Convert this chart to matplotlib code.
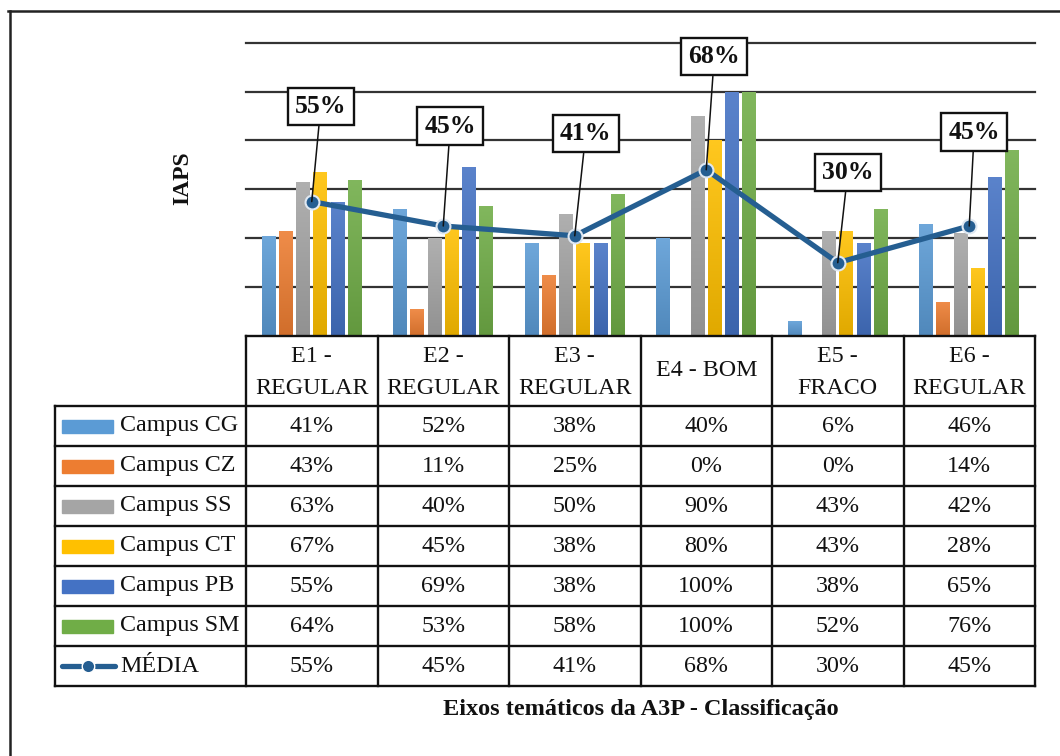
import matplotlib
matplotlib.use("Agg")
import numpy as np
import matplotlib.pyplot as plt
from matplotlib.patches import Rectangle
from matplotlib.colors import to_rgb

# ---------------- data ----------------
categories = ["E1 -\nREGULAR", "E2 -\nREGULAR", "E3 -\nREGULAR",
              "E4 - BOM", "E5 -\nFRACO", "E6 -\nREGULAR"]
series_names = ["Campus CG", "Campus CZ", "Campus SS",
                "Campus CT", "Campus PB", "Campus SM"]
campus_cg = [41, 52, 38, 40, 6, 46]
campus_cz = [43, 11, 25, 0, 0, 14]
campus_ss = [63, 40, 50, 90, 43, 42]
campus_ct = [67, 45, 38, 80, 43, 28]
campus_pb = [55, 69, 38, 100, 38, 65]
campus_sm = [64, 53, 58, 100, 52, 76]
media = [55, 45, 41, 68, 30, 45]
media_name = "MÉDIA"
y_label = "IAPS"
x_title = "Eixos temáticos da A3P - Classificação"

series_values = [campus_cg, campus_cz, campus_ss, campus_ct, campus_pb, campus_sm]
colors = ["#5B9BD5", "#ED7D31", "#A5A5A5", "#FFC000", "#4472C4", "#70AD47"]
line_color = "#255E91"
text_color = "#111111"

plt.rcParams['font.family'] = ['Liberation Serif', 'DejaVu Serif']
plt.rcParams['text.color'] = text_color

W, H = 1060, 756
fig = plt.figure(figsize=(W / 100, H / 100), dpi=100)


def fx(px):
    return px / W


def fy(py):
    return 1 - py / H


def shade(c, f):
    r = np.array(to_rgb(c))
    if f >= 0:
        return r + (1 - r) * f
    return r * (1 + f)


# ---------------- chart area ----------------
x_left, x_right = 246, 1035
y_top, y_bot = 42.7, 336
ax = fig.add_axes([fx(x_left), fy(y_bot), fx(x_right) - fx(x_left), fy(y_top) - fy(y_bot)])
ax.set_xlim(-0.5, len(categories) - 0.5)
ax.set_ylim(0, 120)
ax.set_yticks(range(20, 121, 20))
ax.yaxis.grid(True, color="#333333", lw=1.6)
for gl in ax.get_ygridlines():
    gl.set_clip_on(False)
ax.set_axisbelow(True)
for s in ax.spines.values():
    s.set_visible(False)
ax.tick_params(left=False, bottom=False, labelleft=False, labelbottom=False)
ax.patch.set_alpha(0)

n = len(series_values)
step = 0.131
bw = 0.106
xs = list(range(len(categories)))
for j, (vals, c) in enumerate(zip(series_values, colors)):
    bars = ax.bar([x + (j - (n - 1) / 2) * step for x in xs], vals, width=bw,
                  color=c, zorder=2, linewidth=0)
    # subtle vertical gradient (lighter top, darker bottom)
    top_c = shade(c, 0.12)
    bot_c = shade(c, -0.12)
    grad = np.linspace(0, 1, 64)[:, None, None]
    img = bot_c[None, None, :] * (1 - grad) + top_c[None, None, :] * grad
    for b in bars:
        if b.get_height() <= 0:
            continue
        x0, w, h = b.get_x(), b.get_width(), b.get_height()
        im = ax.imshow(img, extent=(x0, x0 + w, 0, h), origin='lower',
                       aspect='auto', zorder=2.1, interpolation='bilinear')
        im.set_clip_path(b)

ax.set_xlim(-0.5, len(categories) - 0.5)
ax.set_ylim(0, 120)

ax.plot(xs, media, color=line_color, lw=3.8, zorder=4, solid_capstyle='round')
ax.plot(xs, media, linestyle='none', marker='o', markersize=10,
        markerfacecolor=line_color, markeredgecolor="#dfe8f2", markeredgewidth=1.5, zorder=5)

label_offsets = [(9, 95), (7, 100), (11, 102), (8, 113), (10, 90), (5, 94)]
for x, v, off in zip(xs, media, label_offsets):
    ax.annotate(f"{v}%", xy=(x, v), xytext=off, textcoords='offset pixels',
                ha='center', va='center', fontsize=18.5, fontweight='bold',
                bbox=dict(boxstyle='square,pad=0.28', fc='white', ec='#111111', lw=1.7),
                arrowprops=dict(arrowstyle='-', color='#111111', lw=1.1,
                                shrinkA=0, shrinkB=0),
                zorder=6)

# ---------------- overlay for table / frame ----------------
ov = fig.add_axes([0, 0, 1, 1])
ov.set_xlim(0, W)
ov.set_ylim(H, 0)
ov.axis('off')
ov.patch.set_alpha(0)

# outer frame
ov.plot([8, W], [10.5, 10.5], color="#222222", lw=1.8)
ov.plot([9.5, 9.5], [10.5, H], color="#222222", lw=1.8)

col_edges = [x_left + (x_right - x_left) * k / len(categories) for k in range(len(categories) + 1)]
tab_left = 55
row_top = 336
header_bot = 406
row_h = 40
n_rows = len(series_names) + 1
row_lines = [header_bot + row_h * k for k in range(n_rows + 1)]
tab_bot = row_lines[-1]

lc = "#111111"
tlw = 1.7
ov.plot([x_left, x_right], [row_top, row_top], color=lc, lw=tlw)
for yl in row_lines:
    ov.plot([tab_left, x_right], [yl, yl], color=lc, lw=tlw)
for xc in col_edges:
    ov.plot([xc, xc], [row_top, tab_bot], color=lc, lw=tlw)
ov.plot([tab_left, tab_left], [header_bot, tab_bot], color=lc, lw=tlw)

fs = 17.3
# header labels
for k, cat in enumerate(categories):
    cx = (col_edges[k] + col_edges[k + 1]) / 2
    if "\n" in cat:
        l1, l2 = cat.split("\n")
        ov.text(cx, 356, l1, ha='center', va='center', fontsize=fs)
        ov.text(cx, 388, l2, ha='center', va='center', fontsize=fs)
    else:
        ov.text(cx, 371, cat, ha='center', va='center', fontsize=fs)

# data rows
for r, (name, vals, c) in enumerate(zip(series_names, series_values, colors)):
    cy = header_bot + row_h * r + row_h / 2
    ov.add_patch(Rectangle((62, cy - 6.5), 51, 13, color=c))
    ov.text(120, cy, name, ha='left', va='center', fontsize=fs)
    for k, v in enumerate(vals):
        cx = (col_edges[k] + col_edges[k + 1]) / 2
        ov.text(cx, cy, f"{v}%", ha='center', va='center', fontsize=fs)

# media row
cy = header_bot + row_h * len(series_names) + row_h / 2
ov.plot([62, 80], [cy, cy], color=line_color, lw=3.8, solid_capstyle='round')
ov.plot([96, 115], [cy, cy], color=line_color, lw=3.8, solid_capstyle='round')
ov.plot([88], [cy], marker='o', markersize=9, markerfacecolor=line_color,
        markeredgecolor='white', markeredgewidth=1.0)
ov.text(120, cy, media_name, ha='left', va='center', fontsize=fs)
for k, v in enumerate(media):
    cx = (col_edges[k] + col_edges[k + 1]) / 2
    ov.text(cx, cy, f"{v}%", ha='center', va='center', fontsize=fs)

# axis titles
ov.text(183, 178, y_label, rotation=90, ha='center', va='center',
        fontsize=17, fontweight='bold')
ov.text(641, 710, x_title, ha='center', va='center', fontsize=17.5, fontweight='bold')

fig.savefig("out.png", dpi=100)
